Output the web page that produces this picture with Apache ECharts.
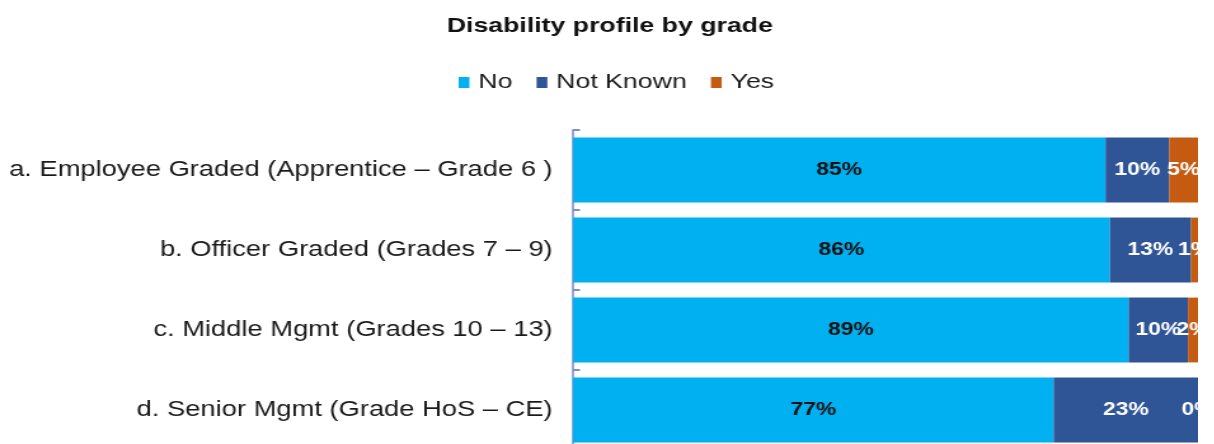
<!DOCTYPE html>
<html>
<head>
<meta charset="utf-8">
<script src="https://cdn.jsdelivr.net/npm/echarts@6/dist/echarts.min.js"></script>
<style>
  html, body { margin: 0; padding: 0; background: #fff; overflow: hidden; }
  /* the reference text looks stretched sideways, so draw narrower and stretch */
  #chart { width: 943px; height: 450px; transform: scaleX(1.2704); transform-origin: 0 0; }
</style>
</head>
<body>
<div id="chart"></div>
<script>
const categories = [
  'a. Employee Graded (Apprentice – Grade 6 )',
  'b. Officer Graded (Grades 7 – 9)',
  'c. Middle Mgmt (Grades 10 – 13)',
  'd. Senior Mgmt (Grade HoS – CE)'
];
const seriesNames = ['No', 'Not Known', 'Yes'];
const noValues = [85.2, 85.9, 88.9, 76.9];
const notKnownValues = [10.2, 13.0, 9.5, 23.1];
const yesValues = [4.6, 1.1, 1.6, 0];

const chart = echarts.init(document.getElementById('chart'));

function barSeries(name, data, color, labelColor) {
  return {
    name: name,
    type: 'bar',
    stack: 'total',
    data: data,
    barCategoryGap: '19%',
    itemStyle: { color: color },
    label: {
      show: true,
      position: 'inside',
      color: labelColor,
      fontFamily: 'Liberation Sans',
      fontWeight: 'bold',
      fontSize: 18,
      formatter: p => Math.round(p.value) + '%'
    }
  };
}

const option = {
  animation: false,
  textStyle: { fontFamily: 'Liberation Sans' },
  title: {
    text: 'Disability profile by grade',
    left: 475,
    textAlign: 'center',
    top: 11,
    textStyle: { fontSize: 21, fontWeight: 'bold', color: '#111' }
  },
  legend: {
    data: seriesNames,
    left: 356,
    top: 67,
    itemWidth: 8.5,
    itemHeight: 11,
    itemGap: 19,
    icon: 'rect',
    textStyle: { fontSize: 21, color: '#1a1a1a', padding: [0, 0, 0, 2] }
  },
  grid: { left: 451, right: 0, top: 130, bottom: 0 },
  xAxis: {
    type: 'value',
    min: 0,
    max: 100,
    show: false
  },
  yAxis: {
    type: 'category',
    data: categories,
    inverse: true,
    axisLine: { show: true, lineStyle: { color: '#7f8fc4', width: 1.6 } },
    axisTick: { show: true, inside: true, length: 5.5, lineStyle: { color: '#7f8fc4', width: 2 } },
    axisLabel: { fontSize: 21.5, color: '#1a1a1a', margin: 16 }
  },
  series: [
    barSeries('No', noValues, '#00b0f0', '#111'),
    barSeries('Not Known', notKnownValues, '#2f5597', '#fff'),
    barSeries('Yes', yesValues, '#c55a11', '#fff')
  ]
};

chart.setOption(option);
</script>
</body>
</html>
